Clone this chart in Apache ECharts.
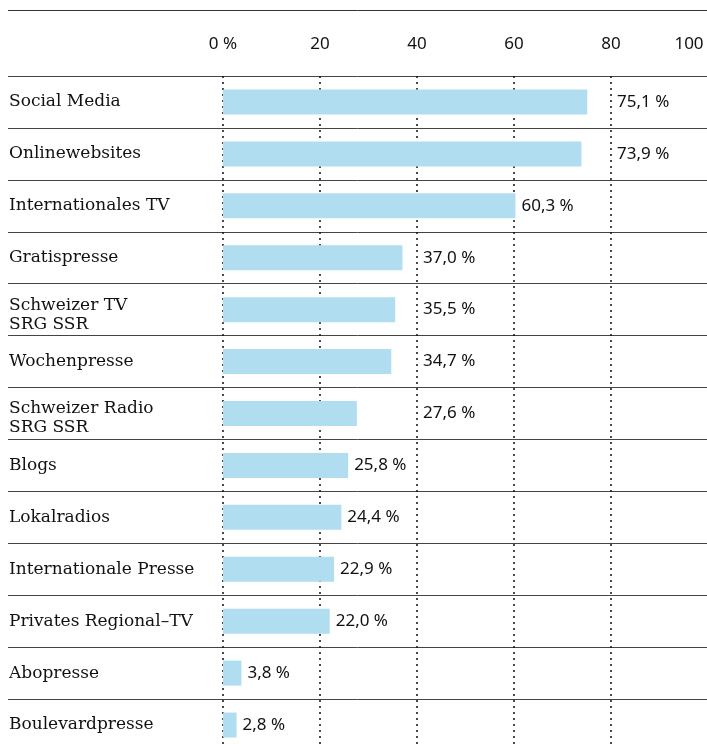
<!DOCTYPE html>
<html><head><meta charset="utf-8">
<script src="https://cdn.jsdelivr.net/npm/echarts@6/dist/echarts.min.js"></script>
<style>html,body{margin:0;padding:0;background:#fff}#c{width:707px;height:744px}</style>
</head><body><div id="c"></div>
<script>
const categories = ["Social Media","Onlinewebsites","Internationales TV","Gratispresse","Schweizer TV\nSRG SSR","Wochenpresse","Schweizer Radio\nSRG SSR","Blogs","Lokalradios","Internationale Presse","Privates Regional–TV","Abopresse","Boulevardpresse"];
const values = [75.1,73.9,60.3,37.0,35.5,34.7,27.6,25.8,24.4,22.9,22.0,3.8,2.8];
const tickLabels = {0:"0 %",20:"20",40:"40",60:"60",80:"80",100:"100"};

const fmt = v => v.toFixed(1).replace('.', ',') + ' %';
// label anchor: if label would run across the next gridline, move it past that gridline
const labelData = values.map((v, i) => {
  const next = Math.ceil((v + 0.0001) / 20) * 20;
  const anchor = (v + 12.6 > next) ? next : v;
  return [anchor, i, fmt(v)];
});

const chart = echarts.init(document.getElementById('c'), null, {renderer:'canvas'});
chart.setOption({
  animation:false,
  graphic:[{type:'line', shape:{x1:8,y1:10.5,x2:707,y2:10.5}, style:{stroke:'#333',lineWidth:1}}],
  grid:[
    {left:223, width:485, top:76, height:675, outerBoundsMode:'none', containLabel:false},
    {left:8, right:0, top:76, height:675, outerBoundsMode:'none', containLabel:false}
  ],
  xAxis:[
    {gridIndex:0, type:'value', min:0, max:100, interval:20, position:'top',
     axisLine:{show:false}, axisTick:{show:false},
     axisLabel:{margin:23, fontFamily:'Noto Sans', fontSize:17, color:'#111',
       formatter:v => v === 100 ? '{e|' + tickLabels[v] + '}' : tickLabels[v],
       rich:{e:{fontFamily:'Noto Sans', fontSize:17, color:'#111', padding:[0,38,0,0]}}},
     splitLine:{show:true, lineStyle:{color:'#111', type:[2,4], width:1.5}}},
    {gridIndex:1, type:'value', show:false, min:0, max:1}
  ],
  yAxis:[
    {gridIndex:0, type:'category', data:categories, inverse:true,
     axisLine:{show:false}, axisTick:{show:false}, splitLine:{show:false},
     axisLabel:{show:true, align:'left', margin:214, fontFamily:'DejaVu Serif', fontSize:17, color:'#111', lineHeight:23,
       formatter:s => s.indexOf('\n') >= 0 ? s.split('\n').map((t, k) => '{' + (k ? 'b' : 'a') + '|' + t + '}').join('\n') : s,
       rich:{
         a:{fontFamily:'DejaVu Serif', fontSize:17, color:'#111', lineHeight:23, padding:[14,0,0,0]},
         b:{fontFamily:'DejaVu Serif', fontSize:17, color:'#111', lineHeight:23, padding:[6,0,0,0]}
       }}},
    {gridIndex:1, type:'category', data:categories, inverse:true,
     axisLine:{show:false}, axisTick:{show:false}, axisLabel:{show:false},
     splitLine:{show:true, interval:0, lineStyle:{color:'#444', width:1}}}
  ],
  series:[
    {type:'bar', xAxisIndex:0, yAxisIndex:0, data:values, barWidth:25, z:5,
     itemStyle:{color:'#b0def0'}},
    {type:'custom', xAxisIndex:0, yAxisIndex:0, data:labelData, z:6,
     renderItem:(params, api) => {
       const p = api.coord([api.value(0), api.value(1)]);
       return {type:'text', x:p[0]+6, y:p[1],
         style:{text:labelData[params.dataIndex][2], fontFamily:'Noto Sans', fontSize:17, fill:'#111',
                verticalAlign:'middle', align:'left'}};
     }}
  ]
});
</script></body></html>
